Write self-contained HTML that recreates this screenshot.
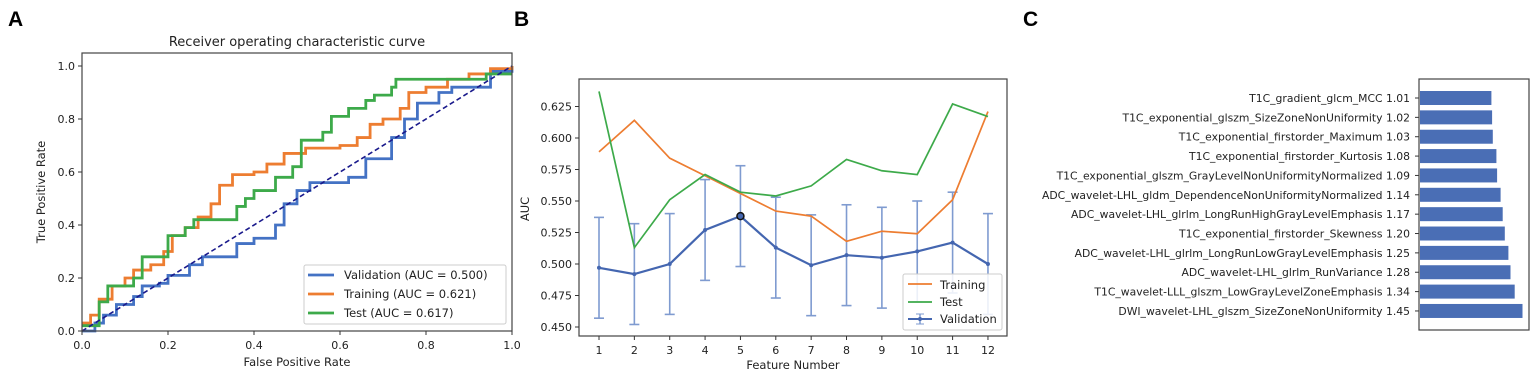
<!DOCTYPE html>
<html><head><meta charset="utf-8"><style>
html,body{margin:0;padding:0;background:#fff;}
svg{display:block;font-family:"DejaVu Sans","Liberation Sans",sans-serif;}
</style></head><body>
<svg id="s" width="1535" height="375" xmlns="http://www.w3.org/2000/svg">
<rect width="1535" height="375" fill="#fff"/>
<text x="8" y="26" font-size="21" font-weight="bold" font-family="Liberation Sans,sans-serif">A</text>
<text x="514" y="26" font-size="21" font-weight="bold" font-family="Liberation Sans,sans-serif">B</text>
<text x="1023" y="26" font-size="21" font-weight="bold" font-family="Liberation Sans,sans-serif">C</text>
<text x="297" y="46" font-size="13" text-anchor="middle" fill="#222">Receiver operating characteristic curve</text>
<text x="297" y="366" font-size="11.5" text-anchor="middle" fill="#222">False Positive Rate</text>
<text transform="translate(45,192) rotate(-90)" font-size="11.5" text-anchor="middle" fill="#222">True Positive Rate</text>
<text x="793" y="369" font-size="11.5" text-anchor="middle" fill="#222">Feature Number</text>
<text transform="translate(529,209) rotate(-90)" font-size="11.5" text-anchor="middle" fill="#222">AUC</text>
<g id="g"></g>
</svg>
<script>
const g=document.getElementById('g');let h='';
const AX=x=>82+x*430, AY=y=>331-y*265;
function step(pts){let d='M'+AX(pts[0][0])+','+AY(pts[0][1]);for(let i=1;i<pts.length;i++){d+=' L'+AX(pts[i][0])+','+AY(pts[i-1][1])+' L'+AX(pts[i][0])+','+AY(pts[i][1]);}return d;}
const val=[[0,0],[0.03,0.03],[0.05,0.06],[0.08,0.1],[0.12,0.13],[0.14,0.17],[0.18,0.18],[0.2,0.21],[0.25,0.25],[0.28,0.28],[0.34,0.28],[0.36,0.33],[0.4,0.35],[0.45,0.4],[0.47,0.48],[0.5,0.53],[0.53,0.56],[0.62,0.58],[0.66,0.65],[0.72,0.73],[0.75,0.8],[0.78,0.86],[0.83,0.9],[0.86,0.92],[0.93,0.92],[0.95,0.98],[1,1]];
const tr=[[0,0.03],[0.02,0.06],[0.04,0.12],[0.07,0.17],[0.1,0.2],[0.12,0.23],[0.16,0.25],[0.19,0.3],[0.21,0.36],[0.24,0.39],[0.27,0.43],[0.3,0.48],[0.32,0.55],[0.35,0.59],[0.4,0.6],[0.43,0.63],[0.47,0.67],[0.52,0.69],[0.6,0.7],[0.64,0.73],[0.67,0.78],[0.7,0.8],[0.74,0.84],[0.76,0.9],[0.8,0.92],[0.85,0.95],[0.9,0.97],[0.95,0.99],[1,1]];
const te=[[0,0.02],[0.04,0.03],[0.04,0.11],[0.06,0.17],[0.12,0.2],[0.14,0.24],[0.14,0.28],[0.2,0.28],[0.2,0.36],[0.24,0.39],[0.26,0.42],[0.33,0.42],[0.36,0.47],[0.38,0.5],[0.4,0.53],[0.45,0.53],[0.45,0.58],[0.49,0.62],[0.51,0.72],[0.56,0.75],[0.58,0.81],[0.62,0.84],[0.66,0.87],[0.68,0.89],[0.72,0.92],[0.73,0.95],[0.94,0.95],[0.94,0.97],[1,0.97]];
h+=`<path d="${step(val)}" fill="none" stroke="#4472c4" stroke-width="2.8"/>`;
h+=`<path d="${step(tr)}" fill="none" stroke="#ed7d31" stroke-width="2.8"/>`;
h+=`<path d="${step(te)}" fill="none" stroke="#3daa4a" stroke-width="2.8"/>`;
h+=`<line x1="82" y1="331" x2="512" y2="66" stroke="#1a1a8c" stroke-width="1.6" stroke-dasharray="5,3"/>`;
h+=`<rect x="82" y="53" width="430" height="278" fill="none" stroke="#444" stroke-width="1.2"/>`;
for(let i=0;i<=5;i++){const v=i*0.2,x=AX(v),y=AY(v);
h+=`<line x1="${x}" y1="331" x2="${x}" y2="335" stroke="#333"/><text x="${x}" y="349" font-size="11" text-anchor="middle" fill="#222">${v.toFixed(1)}</text>`;
h+=`<line x1="78" y1="${y}" x2="82" y2="${y}" stroke="#333"/><text x="75" y="${y+4}" font-size="11" text-anchor="end" fill="#222">${v.toFixed(1)}</text>`;}
h+=`<rect x="304" y="265" width="202" height="59" fill="#fff" stroke="#ccc" rx="2"/>`;
[['#4472c4','Validation (AUC = 0.500)'],['#ed7d31','Training (AUC = 0.621)'],['#3daa4a','Test (AUC = 0.617)']].forEach((l,i)=>{const y=275+i*19;
h+=`<line x1="308" y1="${y}" x2="334" y2="${y}" stroke="${l[0]}" stroke-width="2.8"/><text x="344" y="${y+4}" font-size="11.5" fill="#222">${l[1]}</text>`;});
const BX=i=>599+(i-1)*35.36, BY=v=>327-(v-0.45)/0.025*31.5;
const T=[0.589,0.614,0.584,0.570,0.556,0.542,0.538,0.518,0.526,0.524,0.551,0.621];
const S=[0.637,0.513,0.551,0.571,0.557,0.554,0.562,0.583,0.574,0.571,0.627,0.617];
const V=[0.497,0.492,0.500,0.527,0.538,0.513,0.499,0.507,0.505,0.510,0.517,0.500];
const pl=a=>a.map((v,i)=>BX(i+1)+','+BY(v)).join(' ');
V.forEach((v,i)=>{const x=BX(i+1),t=BY(v+0.04),b=BY(v-0.04);
h+=`<line x1="${x}" y1="${t}" x2="${x}" y2="${b}" stroke="#7f9bd0" stroke-width="1.6"/><line x1="${x-5}" y1="${t}" x2="${x+5}" y2="${t}" stroke="#7f9bd0" stroke-width="1.6"/><line x1="${x-5}" y1="${b}" x2="${x+5}" y2="${b}" stroke="#7f9bd0" stroke-width="1.6"/>`;});
h+=`<polyline points="${pl(T)}" fill="none" stroke="#ed7d31" stroke-width="1.7"/>`;
h+=`<polyline points="${pl(S)}" fill="none" stroke="#3daa4a" stroke-width="1.7"/>`;
h+=`<polyline points="${pl(V)}" fill="none" stroke="#4466b0" stroke-width="2.2"/>`;
V.forEach((v,i)=>{h+=`<circle cx="${BX(i+1)}" cy="${BY(v)}" r="2" fill="#4466b0"/>`;});
h+=`<circle cx="${BX(5)}" cy="${BY(0.538)}" r="3.5" fill="#4466b0" stroke="#111" stroke-width="1.5"/>`;
h+=`<rect x="579" y="79" width="428" height="257" fill="none" stroke="#444" stroke-width="1.2"/>`;
for(let i=1;i<=12;i++){const x=BX(i);h+=`<line x1="${x}" y1="336" x2="${x}" y2="340" stroke="#333"/><text x="${x}" y="354" font-size="11" text-anchor="middle" fill="#222">${i}</text>`;}
for(let k=0;k<=7;k++){const v=0.45+k*0.025,y=BY(v);h+=`<line x1="575" y1="${y}" x2="579" y2="${y}" stroke="#333"/><text x="572" y="${y+4}" font-size="11" text-anchor="end" fill="#222">${v.toFixed(3)}</text>`;}
h+=`<rect x="903" y="274" width="99" height="56" fill="#fff" fill-opacity="0.85" stroke="#ccc" rx="2"/>`;
h+=`<line x1="908" y1="284" x2="932" y2="284" stroke="#ed7d31" stroke-width="1.7"/><text x="940" y="289" font-size="11.5" fill="#222">Training</text>`;
h+=`<line x1="908" y1="302" x2="932" y2="302" stroke="#3daa4a" stroke-width="1.7"/><text x="940" y="306" font-size="11.5" fill="#222">Test</text>`;
h+=`<line x1="908" y1="319" x2="932" y2="319" stroke="#4466b0" stroke-width="2"/><line x1="920" y1="314" x2="920" y2="324" stroke="#7f9bd0" stroke-width="1.5"/><line x1="916" y1="314" x2="924" y2="314" stroke="#7f9bd0"/><line x1="916" y1="324" x2="924" y2="324" stroke="#7f9bd0"/><circle cx="920" cy="319" r="2" fill="#4466b0"/><text x="940" y="323" font-size="11.5" fill="#222">Validation</text>`;
const C=[['T1C_gradient_glcm_MCC',1.01],['T1C_exponential_glszm_SizeZoneNonUniformity',1.02],['T1C_exponential_firstorder_Maximum',1.03],['T1C_exponential_firstorder_Kurtosis',1.08],['T1C_exponential_glszm_GrayLevelNonUniformityNormalized',1.09],['ADC_wavelet-LHL_gldm_DependenceNonUniformityNormalized',1.14],['ADC_wavelet-LHL_glrlm_LongRunHighGrayLevelEmphasis',1.17],['T1C_exponential_firstorder_Skewness',1.20],['ADC_wavelet-LHL_glrlm_LongRunLowGrayLevelEmphasis',1.25],['ADC_wavelet-LHL_glrlm_RunVariance',1.28],['T1C_wavelet-LLL_glszm_LowGrayLevelZoneEmphasis',1.34],['DWI_wavelet-LHL_glszm_SizeZoneNonUniformity',1.45]];
C.forEach((c,i)=>{const y=98+i*19.36;
h+=`<rect x="1420" y="${y-7}" width="${(c[1]*70.7).toFixed(1)}" height="14" fill="#4a6eb5"/>`;
h+=`<line x1="1415" y1="${y}" x2="1419" y2="${y}" stroke="#333"/><text x="1410" y="${y+4}" font-size="10.8" text-anchor="end" fill="#222">${c[0]} ${c[1].toFixed(2)}</text>`;});
h+=`<rect x="1419" y="79" width="110" height="251" fill="none" stroke="#444" stroke-width="1.2"/>`;
g.innerHTML=h;
</script>
</body></html>
